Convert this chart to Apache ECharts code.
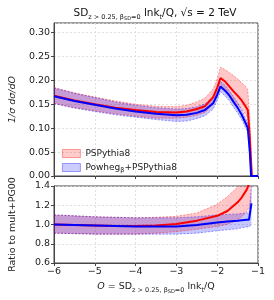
<!DOCTYPE html>
<html><head><meta charset="utf-8">
<script src="https://cdn.jsdelivr.net/npm/echarts@6/dist/echarts.min.js"></script>
<style>html,body{margin:0;padding:0;background:#fff}#c{width:274px;height:300px}</style>
</head><body><div id="c"></div>
<script>
// ---- data ----
const xTop = [-6,-5.5,-5,-4.5,-4,-3.5,-3,-2.75,-2.5,-2.3,-2.1,-2,-1.92,-1.8,-1.7,-1.6,-1.5,-1.4,-1.3,-1.25,-1.2,-1.17,-1.15,-1.1,-1];
const pyCentral = [0.168,0.158,0.150,0.143,0.138,0.134,0.133,0.135,0.140,0.146,0.165,0.185,0.205,0.197,0.187,0.177,0.168,0.158,0.145,0.138,0.080,0.030,0,0,0];
const pyUpper   = [0.185,0.174,0.165,0.157,0.150,0.146,0.145,0.148,0.155,0.163,0.182,0.203,0.228,0.222,0.216,0.210,0.203,0.195,0.187,0.180,0.120,0.050,0,0,0];
const pyLower   = [0.152,0.143,0.136,0.130,0.125,0.121,0.121,0.123,0.127,0.133,0.150,0.168,0.190,0.180,0.170,0.160,0.150,0.140,0.128,0.120,0.060,0.020,0,0,0];
const pwCentral = [0.167,0.157,0.149,0.141,0.135,0.130,0.127,0.128,0.132,0.138,0.152,0.170,0.187,0.178,0.168,0.155,0.143,0.128,0.110,0.100,0.050,0,0,0,0];
const pwUpper   = [0.184,0.173,0.164,0.155,0.148,0.143,0.140,0.141,0.145,0.151,0.165,0.182,0.198,0.189,0.178,0.166,0.153,0.138,0.120,0.110,0.060,0,0,0,0];
const pwLower   = [0.151,0.142,0.135,0.128,0.123,0.118,0.114,0.115,0.120,0.126,0.140,0.158,0.176,0.167,0.157,0.144,0.132,0.118,0.100,0.092,0.040,0,0,0,0];

const xRatio = [-6,-5.5,-5,-4.5,-4,-3.5,-3,-2.5,-2,-1.75,-1.5,-1.4,-1.28,-1.22,-1.16];
const pyRatio      = [1.00,0.995,0.99,0.985,0.985,0.99,1.005,1.04,1.09,1.14,1.23,1.28,1.36,1.42,1.5];
const pyRatioUpper = [1.10,1.09,1.08,1.075,1.07,1.075,1.085,1.12,1.21,1.29,1.39,1.45,1.52,1.56,1.6];
const pyRatioLower = [0.91,0.905,0.90,0.90,0.90,0.91,0.925,0.95,0.98,1.0,1.05,1.08,1.13,1.18,1.25];
const pwRatio      = [1.00,0.995,0.99,0.985,0.98,0.978,0.98,0.995,1.02,1.03,1.04,1.045,1.05,1.05,1.22];
const pwRatioUpper = [1.10,1.09,1.08,1.075,1.07,1.07,1.07,1.08,1.10,1.105,1.11,1.115,1.12,1.12,1.4];
const pwRatioLower = [0.91,0.905,0.90,0.90,0.90,0.90,0.90,0.91,0.935,0.945,0.955,0.965,0.975,0.975,1.0];

const topTicks = [0, 0.05, 0.10, 0.15, 0.20, 0.25, 0.30];
const ratioTicks = [0.6, 0.8, 1.0, 1.2, 1.4];
const xTicks = [-6,-5,-4,-3,-2,-1];
const legendNames = ['PSPythia8', 'Powheg_β+PSPythia8'];

// ---- styling ----
const RED = '#ff0000', BLUE = '#0000ff';
const RED_FILL = 'rgba(255,0,0,0.22)', BLUE_FILL = 'rgba(0,0,255,0.22)';
const FONT = 'DejaVu Sans';
const pairs = (xs, ys) => xs.map((x, i) => [x, ys[i]]);

function band(name, id, xs, up, lo, fill, color, gi) {
  return [
    { name: name, id: id, type: 'custom', xAxisIndex: gi, yAxisIndex: gi, clip: true,
      data: xs.map((x, i) => [x, up[i], lo[i]]), encode: { x: 0, y: [1, 2] },
      itemStyle: { color: fill }, z: 2,
      renderItem: (params, api) => {
        if (params.dataIndex !== 0) return null;
        const pts = [];
        for (let i = 0; i < xs.length; i++) pts.push(api.coord([xs[i], up[i]]));
        for (let i = xs.length - 1; i >= 0; i--) pts.push(api.coord([xs[i], lo[i]]));
        const cs = params.coordSys;
        return { type: 'polygon', shape: { points: pts }, style: { fill: fill, stroke: null },
          clipPath: { type: 'rect', shape: { x: cs.x, y: cs.y, width: cs.width, height: cs.height } } };
      } },
    { name: id + '_up', type: 'line', xAxisIndex: gi, yAxisIndex: gi, data: pairs(xs, up),
      symbol: 'none', lineStyle: { width: 0.7, color: color, type: [2, 1.5], opacity: 0.55 }, z: 3 },
    { name: id + '_lo', type: 'line', xAxisIndex: gi, yAxisIndex: gi, data: pairs(xs, lo),
      symbol: 'none', lineStyle: { width: 0.7, color: color, type: [2, 1.5], opacity: 0.55 }, z: 3 }
  ];
}
function central(id, xs, ys, color, gi) {
  return { name: id, type: 'line', xAxisIndex: gi, yAxisIndex: gi, data: pairs(xs, ys),
    symbol: 'none', lineStyle: { width: 2, color: color }, itemStyle: { color: color }, z: 5 };
}

const axisCommon = {
  axisLine: { show: true, onZero: false, lineStyle: { color: '#444', width: 1 } },
  axisTick: { show: true, inside: false, length: 3, lineStyle: { color: '#444' } },
  splitLine: { show: true, lineStyle: { color: '#d8d8d8', type: [2, 2], width: 0.8 } }
};
const minus = v => (v < 0 ? '\u2212' + Math.abs(v) : String(v));

const chart = echarts.init(document.getElementById('c'), null, { renderer: 'canvas' });
chart.setOption({
  animation: false,
  backgroundColor: '#fff',
  graphic: [{
    type: 'text', x: 155, y: 6, z: 10,
    style: {
      text: '{a|SD}{s|z > 0.25, β}{ss|SD}{s|=0}{a| lnk}{s|t}{a|/Q, √s = 2 TeV}',
      align: 'center',
      rich: {
        a: { fontSize: 10.5, fontFamily: FONT, fill: '#111', lineHeight: 15 },
        s: { fontSize: 6.5, fontFamily: FONT, fill: '#111', verticalAlign: 'bottom', lineHeight: 8 },
        ss: { fontSize: 5, fontFamily: FONT, fill: '#111', verticalAlign: 'bottom', lineHeight: 6 }
      }
    }
  }],
  legend: {
    orient: 'vertical', left: 57, top: 144, itemWidth: 18, itemHeight: 8, itemGap: 5,
    icon: 'rect',
    data: [
      { name: legendNames[0], itemStyle: { color: 'rgba(255,0,0,0.2)', borderColor: 'rgba(255,0,0,0.45)', borderWidth: 0.8 } },
      { name: legendNames[1], itemStyle: { color: 'rgba(0,0,255,0.2)', borderColor: 'rgba(0,0,255,0.45)', borderWidth: 0.8 } }
    ],
    formatter: n => n === legendNames[0] ? '{a|PSPythia8}' : '{a|Powheg}{s|β}{a|+PSPythia8}',
    textStyle: { rich: { a: { fontSize: 9, fontFamily: FONT, color: '#222', lineHeight: 12 }, s: { fontSize: 6.5, fontFamily: FONT, color: '#222', verticalAlign: 'bottom', lineHeight: 8 } } }
  },
  grid: [
    { left: 52, right: 16, top: 23, height: 153, show: true, borderColor: '#444', borderWidth: 1 },
    { left: 52, right: 16, top: 186, height: 77, show: true, borderColor: '#444', borderWidth: 1 }
  ],
  xAxis: [
    Object.assign({ type: 'value', gridIndex: 0, min: xTicks[0], max: xTicks[xTicks.length - 1], interval: 1,
      axisLabel: { show: false } }, axisCommon),
    Object.assign({ type: 'value', gridIndex: 1, min: xTicks[0], max: xTicks[xTicks.length - 1], interval: 1,
      axisLabel: { fontSize: 9.5, fontFamily: FONT, color: '#222', formatter: minus, margin: 4 },
      name: '{i|O} = SD{s|z > 0.25, β}{ss|SD}{s|=0} lnk{s|t}/Q', nameLocation: 'middle', nameGap: 17,
      nameTextStyle: { fontSize: 9.5, fontFamily: FONT, color: '#222', lineHeight: 14,
        rich: { i: { fontSize: 9.5, fontFamily: FONT, fontStyle: 'italic', color: '#222', lineHeight: 14 }, s: { fontSize: 6.5, fontFamily: FONT, color: '#222', verticalAlign: 'bottom', lineHeight: 8 }, ss: { fontSize: 5, fontFamily: FONT, color: '#222', verticalAlign: 'bottom', lineHeight: 6 } } } }, axisCommon)
  ],
  yAxis: [
    Object.assign({ type: 'value', gridIndex: 0, min: topTicks[0], max: 0.32, interval: 0.05,
      axisLabel: { fontSize: 9.5, fontFamily: FONT, color: '#222', formatter: v => v.toFixed(2), showMaxLabel: false, margin: 4 },
      name: '1/σ dσ/dO', nameLocation: 'middle', nameGap: 36,
      nameTextStyle: { fontSize: 9.5, fontFamily: FONT, fontStyle: 'italic', color: '#222' } }, axisCommon),
    Object.assign({ type: 'value', gridIndex: 1, min: ratioTicks[0], max: ratioTicks[ratioTicks.length - 1], interval: 0.2,
      axisLabel: { fontSize: 9.5, fontFamily: FONT, color: '#222', formatter: v => v.toFixed(1), margin: 4 },
      name: 'Ratio to mult+PG00', nameLocation: 'middle', nameGap: 36,
      nameTextStyle: { fontSize: 9.5, fontFamily: FONT, color: '#222' } }, axisCommon)
  ],
  series: [].concat(
    band(legendNames[0], 'r0', xTop, pyUpper, pyLower, RED_FILL, RED, 0),
    band(legendNames[1], 'b0', xTop, pwUpper, pwLower, BLUE_FILL, BLUE, 0),
    [central('rc0', xTop, pyCentral, RED, 0), central('bc0', xTop, pwCentral, BLUE, 0)],
    band('PSPythia8 ratio', 'r1', xRatio, pyRatioUpper, pyRatioLower, RED_FILL, RED, 1),
    band('Powheg ratio', 'b1', xRatio, pwRatioUpper, pwRatioLower, BLUE_FILL, BLUE, 1),
    [central('rc1', xRatio, pyRatio, RED, 1), central('bc1', xRatio, pwRatio, BLUE, 1)]
  )
});
</script></body></html>
